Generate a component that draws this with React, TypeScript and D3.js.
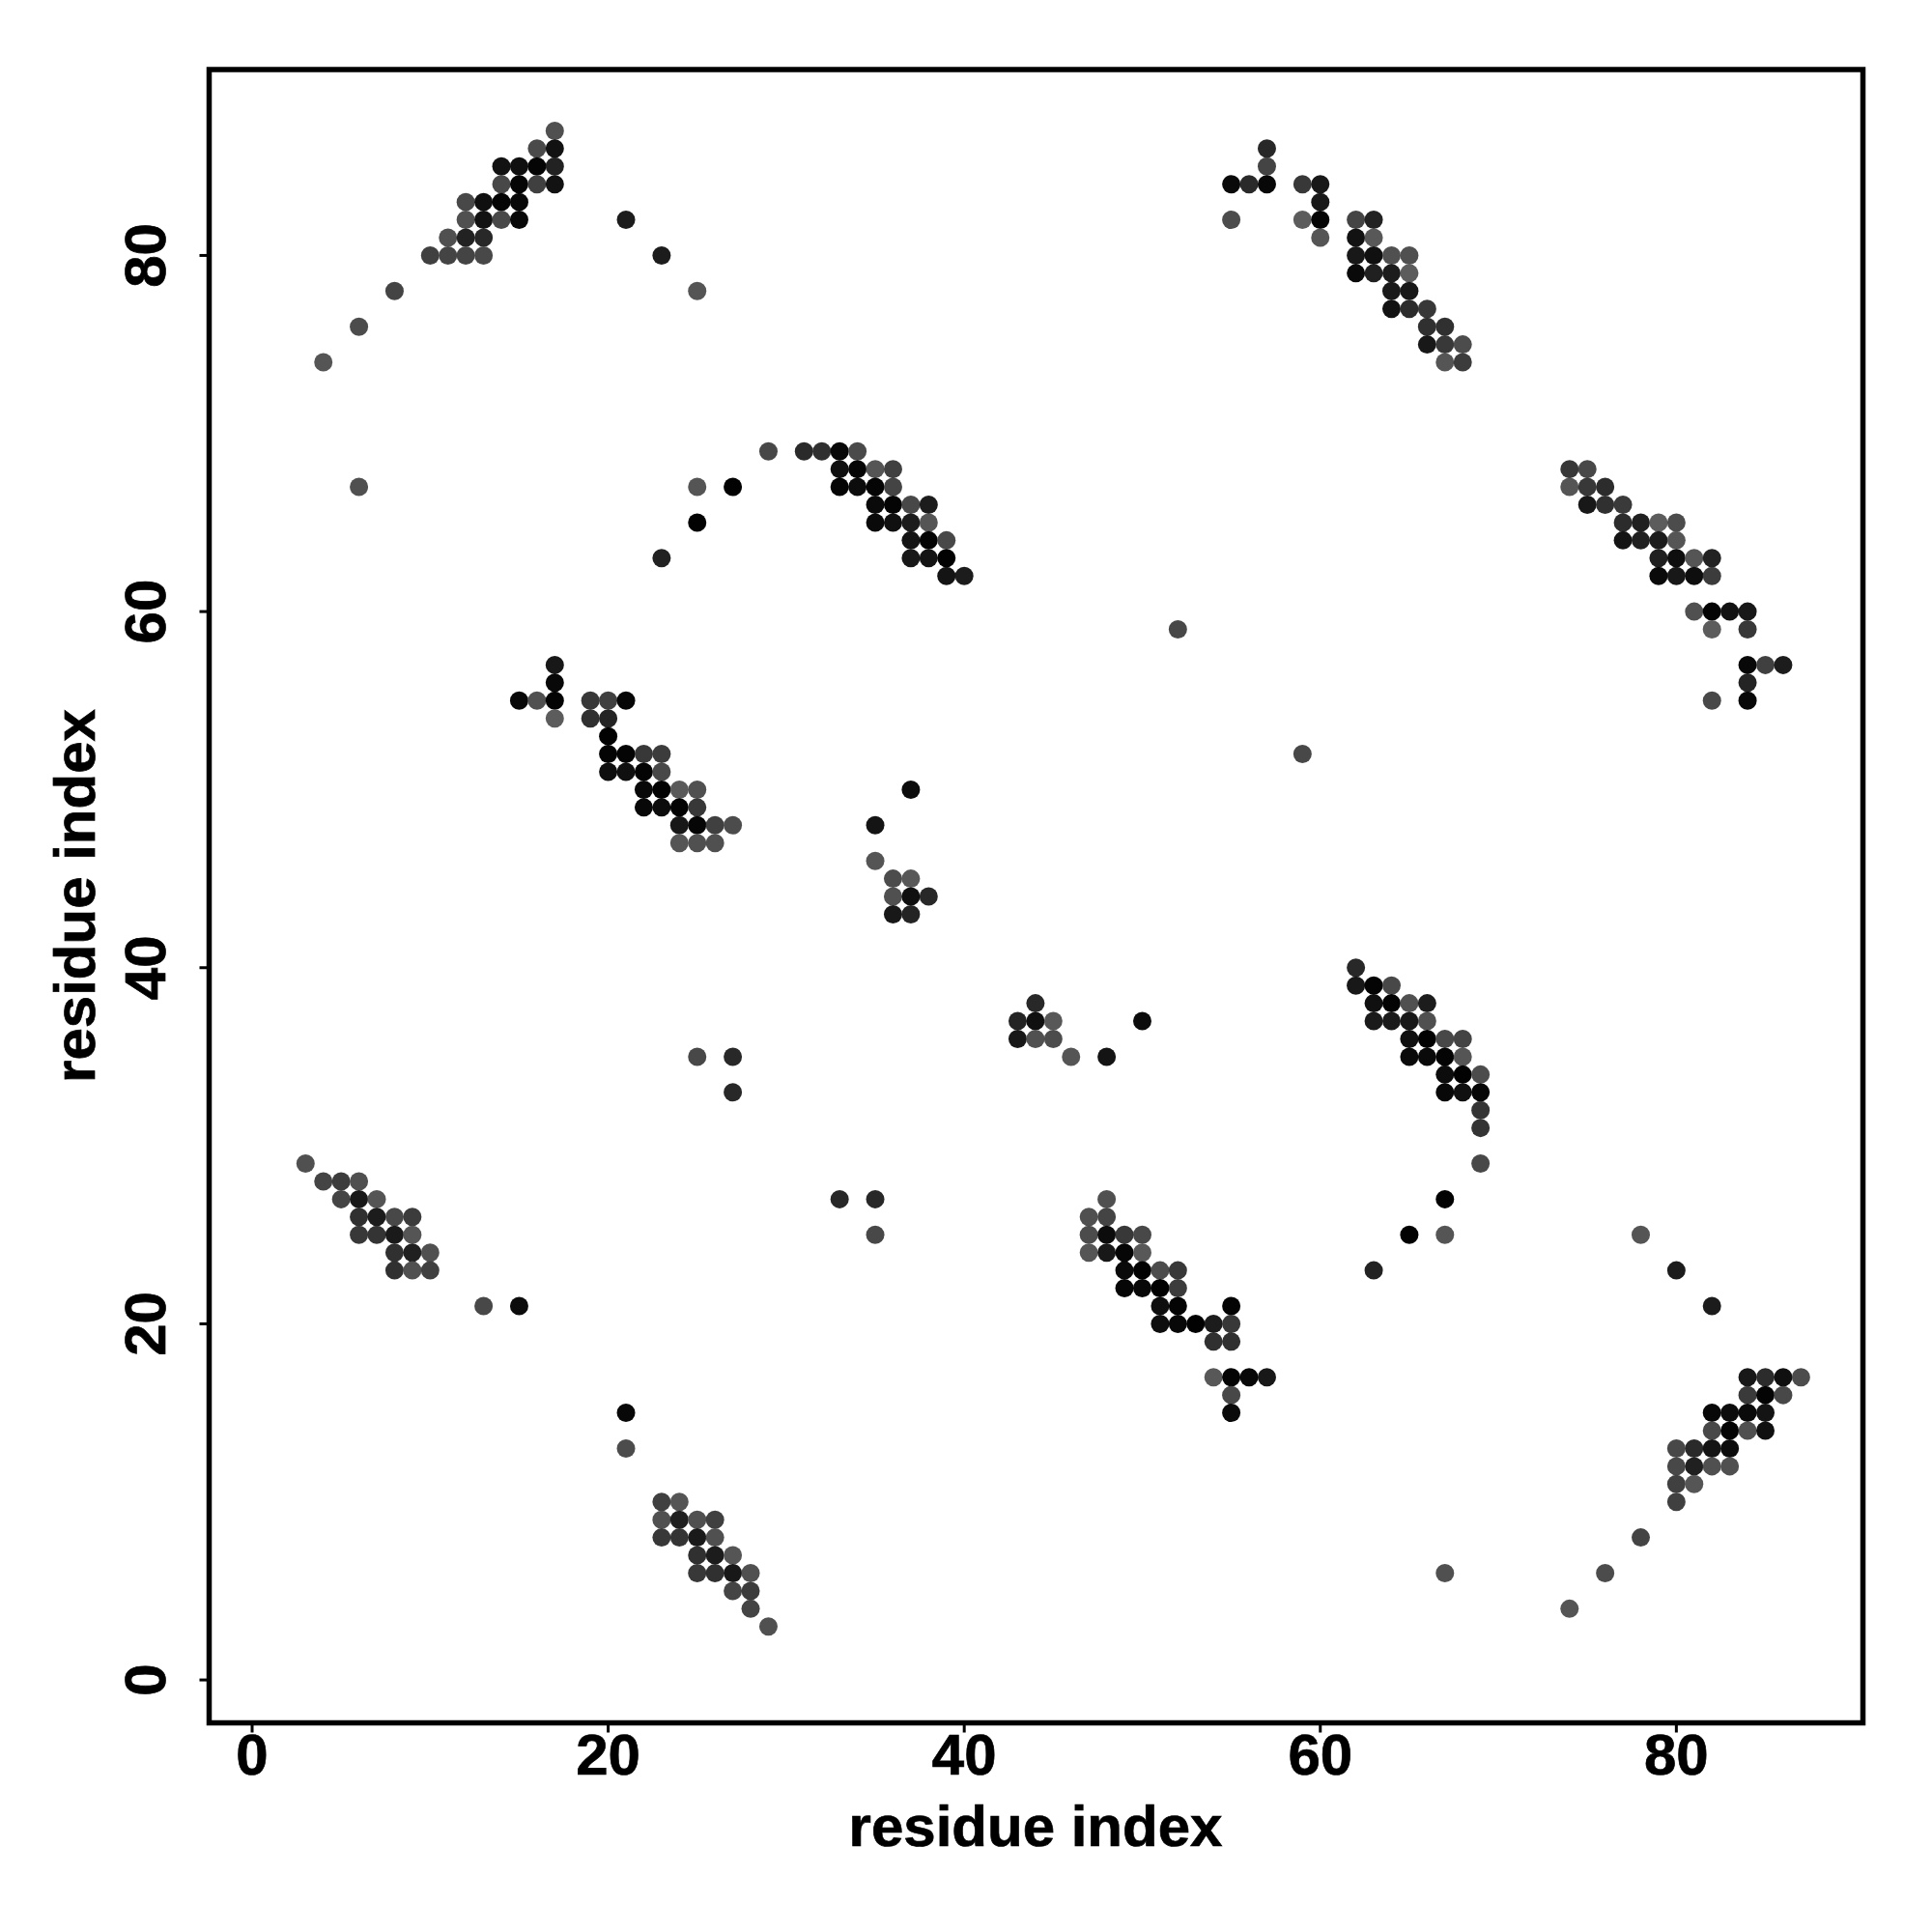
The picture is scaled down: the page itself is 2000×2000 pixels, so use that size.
import React from "react";
import * as d3 from "d3";

// Each contact: [residue i, residue j, grey level]
type Contact = [number, number, number];

const topLeft: Contact[] = [
  [17,87,0x50],[16,86,0x4a],[17,86,0x12],[14,85,0x12],[15,85,0x10],[16,85,0x05],[17,85,0x22],
  [14,84,0x48],[15,84,0x05],[16,84,0x40],[17,84,0x12],[12,83,0x48],[13,83,0x10],[14,83,0x05],[15,83,0x08],
  [12,82,0x50],[13,82,0x12],[14,82,0x48],[15,82,0x08],[21,82,0x1c],[11,81,0x50],[12,81,0x22],[13,81,0x28],
  [10,80,0x40],[11,80,0x44],[12,80,0x44],[13,80,0x48],[23,80,0x1c],[8,78,0x44],[25,78,0x55],[6,76,0x4c],[4,74,0x55],
];
const topRight: Contact[] = [
  [57,86,0x28],[57,85,0x44],[55,84,0x0a],[56,84,0x2a],[57,84,0x08],[59,84,0x38],[60,84,0x18],[60,83,0x18],
  [55,82,0x4c],[59,82,0x5c],[60,82,0x05],[60,81,0x55],[62,82,0x44],[63,82,0x22],[62,81,0x12],[63,81,0x58],
  [62,80,0x18],[63,80,0x10],[64,80,0x50],[65,80,0x50],[62,79,0x0a],[63,79,0x20],[64,79,0x1c],[65,79,0x5c],
  [64,78,0x1a],[65,78,0x18],[64,77,0x12],[65,77,0x2c],[66,77,0x38],[66,76,0x30],[67,76,0x30],
  [66,75,0x18],[67,75,0x38],[68,75,0x4c],[67,74,0x55],[68,74,0x3c],
];
const upperMiddle: Contact[] = [
  [29,69,0x48],[31,69,0x2a],[32,69,0x30],[33,69,0x08],[34,69,0x4a],[33,68,0x10],[34,68,0x05],[35,68,0x55],[36,68,0x40],
  [6,67,0x50],[25,67,0x55],[27,67,0x02],[33,67,0x05],[34,67,0x0c],[35,67,0x05],[36,67,0x44],
  [35,66,0x0a],[36,66,0x04],[37,66,0x48],[38,66,0x1c],[25,65,0x02],[35,65,0x0a],[36,65,0x10],[37,65,0x1c],[38,65,0x55],
  [37,64,0x14],[38,64,0x04],[39,64,0x48],[23,63,0x22],[37,63,0x18],[38,63,0x14],[39,63,0x02],[39,62,0x14],[40,62,0x1c],
];
const upperRight: Contact[] = [
  [74,68,0x38],[75,68,0x48],[74,67,0x55],[75,67,0x38],[76,67,0x2c],[75,66,0x18],[76,66,0x30],[77,66,0x3a],
  [77,65,0x2c],[78,65,0x20],[79,65,0x5c],[80,65,0x4c],[77,64,0x14],[78,64,0x20],[79,64,0x1c],[80,64,0x55],
  [79,63,0x20],[80,63,0x0e],[81,63,0x55],[82,63,0x22],[79,62,0x0a],[80,62,0x18],[81,62,0x0e],[82,62,0x3c],
  [81,60,0x50],[82,60,0x04],[83,60,0x12],[84,60,0x18],[82,59,0x5c],[84,59,0x38],
  [84,57,0x08],[85,57,0x40],[86,57,0x1c],[84,56,0x24],[82,55,0x48],[84,55,0x08],
  [52,59,0x48],[59,52,0x48],
];
const midLeft: Contact[] = [
  [17,57,0x18],[17,56,0x08],[15,55,0x08],[16,55,0x50],[17,55,0x04],[19,55,0x38],[20,55,0x40],[21,55,0x06],
  [17,54,0x5c],[19,54,0x30],[20,54,0x24],[20,53,0x02],[20,52,0x04],[21,52,0x04],[22,52,0x38],[23,52,0x3c],
  [20,51,0x0e],[21,51,0x10],[22,51,0x04],[23,51,0x48],[22,50,0x08],[23,50,0x02],[24,50,0x5a],[25,50,0x50],
  [22,49,0x08],[23,49,0x0c],[24,49,0x04],[25,49,0x38],[24,48,0x18],[25,48,0x06],[26,48,0x40],[27,48,0x4c],
  [24,47,0x55],[25,47,0x50],[26,47,0x50],
];
const centre: Contact[] = [
  [37,50,0x0c],[35,48,0x14],[35,46,0x55],[36,45,0x4c],[37,45,0x58],[36,44,0x50],[37,44,0x10],[38,44,0x28],[36,43,0x18],[37,43,0x24],
  [44,38,0x28],[43,37,0x24],[44,37,0x10],[45,37,0x58],[50,37,0x0c],[43,36,0x18],[44,36,0x50],[45,36,0x4c],[46,35,0x55],[48,35,0x14],
  [25,35,0x48],[27,35,0x28],[27,33,0x28],[33,27,0x28],[35,27,0x28],[35,25,0x48],
];
const midRight: Contact[] = [
  [62,40,0x28],[62,39,0x18],[63,39,0x04],[64,39,0x48],[63,38,0x10],[64,38,0x04],[65,38,0x50],[66,38,0x1c],
  [63,37,0x1a],[64,37,0x1a],[65,37,0x18],[66,37,0x50],[65,36,0x10],[66,36,0x02],[67,36,0x48],[68,36,0x44],
  [65,35,0x0a],[66,35,0x0a],[67,35,0x04],[68,35,0x55],[67,34,0x0c],[68,34,0x02],[69,34,0x4c],
  [67,33,0x08],[68,33,0x10],[69,33,0x06],[69,32,0x34],[69,31,0x34],[69,29,0x48],
  [67,27,0x02],[65,25,0x02],[67,25,0x55],[63,23,0x22],
];
const lowerMiddle: Contact[] = [
  [48,27,0x50],[47,26,0x50],[48,26,0x44],[47,25,0x4c],[48,25,0x0c],[49,25,0x38],[50,25,0x48],
  [47,24,0x55],[48,24,0x18],[49,24,0x06],[50,24,0x58],[49,23,0x0a],[50,23,0x02],[51,23,0x4c],[52,23,0x38],
  [49,22,0x06],[50,22,0x08],[51,22,0x02],[52,22,0x3c],[51,21,0x0e],[52,21,0x04],[55,21,0x04],
  [51,20,0x0e],[52,20,0x08],[53,20,0x02],[54,20,0x1c],[55,20,0x38],[54,19,0x30],[55,19,0x30],
  [54,17,0x58],[55,17,0x04],[56,17,0x08],[57,17,0x18],[55,16,0x48],[55,15,0x0a],
];
const bottomRight: Contact[] = [
  [78,25,0x55],[80,23,0x1c],[82,21,0x1c],
  [84,17,0x18],[85,17,0x2c],[86,17,0x10],[87,17,0x4c],[84,16,0x3a],[85,16,0x04],[86,16,0x48],
  [82,15,0x08],[83,15,0x0c],[84,15,0x0a],[85,15,0x14],[82,14,0x48],[83,14,0x04],[84,14,0x50],[85,14,0x10],
  [80,13,0x48],[81,13,0x2a],[82,13,0x14],[83,13,0x0c],[80,12,0x48],[81,12,0x20],[82,12,0x50],[83,12,0x50],
  [80,11,0x40],[81,11,0x55],[80,10,0x40],[78,8,0x44],[76,6,0x4c],[67,6,0x50],[74,4,0x55],
];
const lowerLeft: Contact[] = [
  [3,29,0x50],[4,28,0x44],[5,28,0x3c],[6,28,0x50],[5,27,0x44],[6,27,0x18],[7,27,0x55],
  [6,26,0x30],[7,26,0x1c],[8,26,0x48],[9,26,0x3c],[6,25,0x38],[7,25,0x34],[8,25,0x1a],[9,25,0x55],
  [8,24,0x30],[9,24,0x20],[10,24,0x50],[8,23,0x30],[9,23,0x50],[10,23,0x40],[13,21,0x48],[15,21,0x0c],
];
const bottomMiddle: Contact[] = [
  [21,15,0x08],[21,13,0x4c],[23,10,0x40],[24,10,0x55],[23,9,0x50],[24,9,0x20],[25,9,0x50],[26,9,0x40],
  [23,8,0x38],[24,8,0x34],[25,8,0x1a],[26,8,0x50],[25,7,0x30],[26,7,0x1c],[27,7,0x55],
  [25,6,0x38],[26,6,0x30],[27,6,0x18],[28,6,0x50],[27,5,0x44],[28,5,0x3c],[28,4,0x44],[29,3,0x50],
];

const contacts: Contact[] = [
  ...topLeft, ...topRight, ...upperMiddle, ...upperRight, ...midLeft, ...centre,
  ...midRight, ...lowerMiddle, ...bottomRight, ...lowerLeft, ...bottomMiddle,
];

const xTicks = [0, 20, 40, 60, 80];
const yTicks = [0, 20, 40, 60, 80];
const xTitle = "residue index";
const yTitle = "residue index";

const x = d3.scaleLinear().domain([-2.415, 90.48]).range([216.5, 1928.5]);
const y = d3.scaleLinear().domain([-2.41, 90.44]).range([1783.5, 72]);

const font = "'Liberation Sans', Arial, sans-serif";
const labelSize = 60;
const labelStroke = 0.7;

export default function App() {
  return (
    <svg
      width={2000}
      height={2000}
      viewBox="0 0 2000 2000"
      style={{ position: "absolute", left: 0, top: 0, display: "block", background: "#fff" }}
    >
      {contacts.map(([i, j, g], k) => (
        <circle key={k} cx={x(i)} cy={y(j)} r={9.5} fill={d3.rgb(g, g, g).formatHex()} />
      ))}
      <rect
        x={x.range()[0]}
        y={y.range()[1]}
        width={x.range()[1] - x.range()[0]}
        height={y.range()[0] - y.range()[1]}
        fill="none"
        stroke="#000"
        strokeWidth={5.5}
      />
      {xTicks.map((t) => (
        <g key={t}>
          <line x1={x(t)} x2={x(t)} y1={1783.5} y2={1793.5} stroke="#000" strokeWidth={3} />
          <text x={x(t)} y={1837} textAnchor="middle" fontFamily={font} fontWeight={700} fontSize={labelSize} fill="#000" stroke="#000" strokeWidth={labelStroke}>
            {t}
          </text>
        </g>
      ))}
      {yTicks.map((t) => (
        <g key={t}>
          <line x1={206.5} x2={216.5} y1={y(t)} y2={y(t)} stroke="#000" strokeWidth={3} />
          <text
            transform={`translate(170.5,${y(t)}) rotate(-90)`}
            textAnchor="middle"
            fontFamily={font}
            fontWeight={700}
            fontSize={labelSize}
            fill="#000"
            stroke="#000"
            strokeWidth={labelStroke}
          >
            {t}
          </text>
        </g>
      ))}
      <text x={1072} y={1911} textAnchor="middle" fontFamily={font} fontWeight={700} fontSize={labelSize} fill="#000" stroke="#000" strokeWidth={labelStroke}>
        {xTitle}
      </text>
      <text
        transform="translate(98,927.5) rotate(-90)"
        textAnchor="middle"
        fontFamily={font}
        fontWeight={700}
        fontSize={labelSize}
        fill="#000"
        stroke="#000"
        strokeWidth={labelStroke}
      >
        {yTitle}
      </text>
    </svg>
  );
}
